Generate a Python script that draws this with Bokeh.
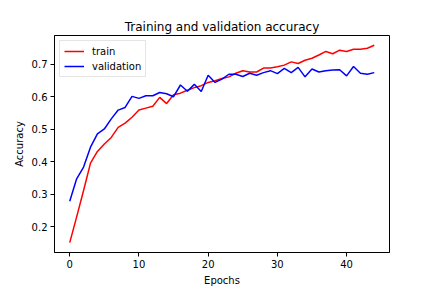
from bokeh.plotting import figure
from bokeh.models import Range1d, FixedTicker
from bokeh.embed import file_html
from bokeh.resources import INLINE

epochs = list(range(45))
train_acc = [0.152, 0.231, 0.312, 0.396, 0.432, 0.455, 0.475, 0.506, 0.519, 0.537,
             0.559, 0.565, 0.571, 0.598, 0.579, 0.606, 0.611, 0.620, 0.628, 0.634,
             0.644, 0.649, 0.656, 0.661, 0.672, 0.680, 0.676, 0.676, 0.688, 0.688,
             0.692, 0.697, 0.707, 0.702, 0.712, 0.718, 0.728, 0.739, 0.732, 0.743,
             0.739, 0.746, 0.746, 0.749, 0.758]
val_acc = [0.279, 0.348, 0.384, 0.445, 0.486, 0.501, 0.532, 0.559, 0.567, 0.601,
           0.595, 0.603, 0.603, 0.613, 0.609, 0.600, 0.636, 0.617, 0.638, 0.616,
           0.666, 0.644, 0.654, 0.669, 0.669, 0.662, 0.672, 0.666, 0.674, 0.680,
           0.671, 0.687, 0.674, 0.690, 0.661, 0.685, 0.676, 0.680, 0.682, 0.683,
           0.664, 0.693, 0.672, 0.669, 0.674]
x_ticks = [0, 10, 20, 30, 40]
y_ticks = [0.2, 0.3, 0.4, 0.5, 0.6, 0.7]

FONT = "DejaVu Sans"

p = figure(width=432, height=288, output_backend="svg", toolbar_location=None,
           title="Training and validation accuracy",
           x_range=Range1d(-2.2, 46.2), y_range=Range1d(0.1217, 0.788),
           min_border_left=54, min_border_right=43, min_border_top=35, min_border_bottom=36)

p.line(epochs, train_acc, color="#ff0000", line_width=1.5, legend_label="train")
p.line(epochs, val_acc, color="#0000ff", line_width=1.5, legend_label="validation")

p.title.align = "center"
p.title.text_font = FONT
p.title.text_font_size = "12px"
p.title.text_font_style = "normal"
p.title.text_color = "#000000"
p.title.standoff = 4

p.xgrid.visible = False
p.ygrid.visible = False
p.outline_line_color = "black"
p.outline_line_width = 1
p.outline_line_alpha = 1.0

p.xaxis.ticker = FixedTicker(ticks=x_ticks)
p.yaxis.ticker = FixedTicker(ticks=y_ticks)
p.xaxis.axis_label = "Epochs"
p.yaxis.axis_label = "Accuracy"
for ax in (p.xaxis, p.yaxis):
    ax.major_label_text_font = FONT
    ax.major_label_text_font_size = "10px"
    ax.major_label_text_color = "#000000"
    ax.axis_label_text_font = FONT
    ax.axis_label_text_font_size = "10px"
    ax.axis_label_text_font_style = "normal"
    ax.axis_label_text_color = "#000000"
    ax.minor_tick_line_color = None
    ax.major_tick_in = 0
    ax.major_tick_out = 4
    ax.major_tick_line_color = "black"
    ax.axis_line_color = "black"
    ax.major_label_standoff = 3
    ax.axis_label_standoff = 4
p.yaxis.major_label_orientation = "horizontal"

p.legend.location = "top_left"
p.legend.margin = 5
p.legend.padding = 4
p.legend.spacing = 3
p.legend.label_text_font = FONT
p.legend.label_text_font_size = "10px"
p.legend.label_text_color = "#000000"
p.legend.label_standoff = 8
p.legend.glyph_width = 20
p.legend.glyph_height = 12
p.legend.label_height = 12
p.legend.border_line_color = "#cccccc"
p.legend.border_line_width = 1
p.legend.background_fill_alpha = 0.8

open("out.html", "w").write(file_html(p, INLINE))
